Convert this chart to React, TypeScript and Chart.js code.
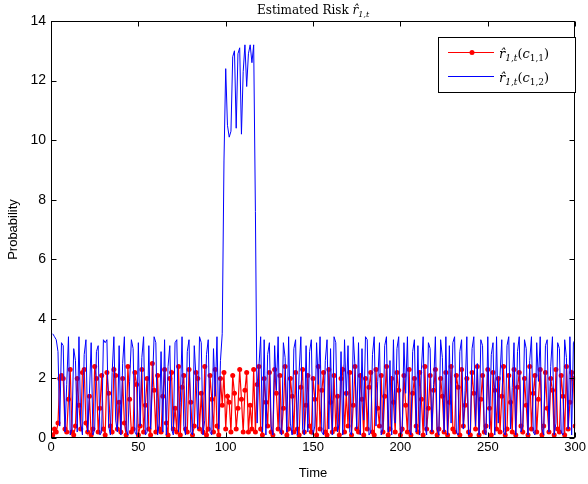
import React, { useEffect, useRef } from "react";
import { Chart, registerables } from "chart.js";

Chart.register(...registerables);

// ---- data ----
const TIME_START = 1;
const X_TICKS = [0, 50, 100, 150, 200, 250, 300];
const Y_TICKS = [0, 2, 4, 6, 8, 10, 12, 14];

const redLabel = "c₁,₁";
const blueLabel = "c₁,₂";

const redRisk = [
  0.1, 0.3, 0.2, 0.5, 2.0, 2.1, 2.0, 0.3, 0.2, 1.3,
  2.3, 0.2, 0.1, 0.4, 2.0, 1.1, 0.3, 2.2, 2.3, 0.5,
  0.2, 1.4, 0.1, 0.3, 2.4, 2.0, 0.2, 1.0, 2.1, 0.3,
  0.1, 2.2, 1.5, 0.4, 0.2, 2.3, 2.1, 0.3, 1.2, 0.2,
  2.0, 0.5, 0.1, 2.4, 1.3, 0.2, 0.3, 2.2, 1.8, 0.1,
  0.4, 2.3, 0.2, 1.1, 2.0, 0.3, 0.1, 2.5, 1.6, 0.2,
  2.1, 0.3, 0.2, 1.4, 2.3, 0.5, 0.1, 2.0, 2.2, 0.3,
  1.0, 0.2, 2.4, 0.1, 1.7, 2.1, 0.3, 0.2, 2.3, 1.2,
  0.1, 0.4, 2.2, 2.0, 0.3, 1.5, 0.2, 2.4, 0.1, 0.3,
  2.1, 1.3, 0.2, 2.3, 0.4, 0.1, 2.0, 1.1, 2.2, 0.3,
  1.4, 1.2, 0.2, 2.1, 1.5, 0.3, 1.0, 2.3, 1.3, 0.2,
  1.6, 2.2, 0.2, 1.1, 0.3, 2.3, 0.2, 1.8, 2.4, 0.3,
  0.1, 2.0, 1.2, 0.4, 2.2, 0.2, 0.1, 2.3, 1.5, 0.3,
  2.1, 0.2, 1.0, 2.4, 0.1, 0.3, 2.0, 1.4, 0.2, 2.2,
  0.3, 0.1, 1.7, 2.3, 0.2, 1.1, 2.1, 0.4, 0.2, 2.0,
  1.3, 0.1, 2.4, 0.3, 1.6, 2.2, 0.2, 0.1, 2.3, 1.2,
  0.2, 2.1, 0.3, 1.4, 0.1, 2.0, 2.3, 0.2, 1.5, 0.4,
  2.2, 0.1, 1.1, 2.4, 0.3, 0.2, 2.1, 1.3, 0.1, 2.0,
  0.3, 1.7, 2.2, 0.2, 0.1, 2.3, 1.0, 0.4, 2.1, 0.2,
  1.4, 2.4, 0.1, 0.3, 2.0, 1.2, 0.2, 2.2, 1.6, 0.1,
  0.3, 2.1, 1.1, 0.2, 2.3, 0.1, 1.5, 2.0, 0.4, 0.2,
  2.2, 1.3, 0.1, 2.4, 0.3, 1.0, 2.1, 0.2, 1.6, 2.3,
  0.1, 0.3, 2.0, 1.4, 0.2, 2.2, 0.1, 1.2, 2.4, 0.3,
  0.2, 2.1, 1.7, 0.1, 2.3, 0.4, 1.1, 2.0, 0.2, 0.1,
  2.2, 1.5, 0.3, 2.4, 0.1, 1.3, 2.1, 0.2, 0.4, 2.3,
  1.0, 0.1, 2.2, 1.6, 0.3, 2.0, 0.2, 1.4, 2.4, 0.1,
  0.3, 2.1, 1.2, 0.2, 2.3, 0.1, 1.7, 2.2, 0.4, 0.2,
  2.0, 1.1, 0.1, 2.4, 0.3, 1.5, 2.1, 0.2, 1.3, 2.3,
  0.1, 0.4, 2.2, 1.0, 0.2, 2.0, 1.6, 0.1, 2.3, 0.3,
  0.2, 2.1, 1.4, 0.1, 2.4, 0.3, 1.2, 2.2, 2.0, 0.4,
];

const blueRisk = [
  3.5, 3.4, 3.3, 2.9, 0.4, 3.2, 3.1, 0.2, 1.8, 3.4,
  0.1, 0.3, 3.0, 2.6, 0.2, 3.4, 0.5, 0.1, 2.8, 3.3,
  0.2, 1.5, 3.2, 0.1, 0.3, 2.9, 3.1, 0.1, 0.2, 3.3,
  3.2, 3.3, 0.4, 0.1, 2.2, 3.4, 0.6, 0.2, 3.1, 0.1,
  2.5, 3.4, 0.3, 0.1, 1.9, 3.3, 3.0, 0.2, 0.1, 3.2,
  0.4, 2.7, 3.4, 0.1, 0.2, 3.1, 0.3, 1.7, 3.4, 3.2,
  0.1, 0.5, 2.9, 0.2, 3.3, 0.1, 2.4, 3.1, 0.3, 0.1,
  3.2, 3.3, 0.2, 1.2, 3.4, 0.4, 0.1, 2.9, 3.3, 0.2,
  0.1, 3.1, 2.0, 0.3, 3.4, 3.2, 0.1, 0.6, 2.8, 3.3,
  0.2, 0.1, 3.0, 1.4, 3.4, 0.3, 2.6, 3.5,
  9.3, 12.4, 10.5, 10.1, 10.3, 12.8, 13.0, 10.4, 12.9, 13.1,
  10.2, 12.3, 13.2, 11.8, 12.9, 13.2, 12.6, 13.2,
  7.6,
  0.5, 2.4, 3.4,
  0.2, 3.3, 0.1, 2.8, 3.2, 0.4, 0.1, 3.1, 1.6, 3.4,
  0.3, 0.1, 3.2, 2.7, 0.2, 3.4, 0.5, 0.1, 3.0, 3.3,
  0.1, 2.2, 3.4, 0.3, 0.1, 3.1, 0.2, 2.9, 3.3, 0.1,
  0.4, 3.2, 1.8, 3.4, 0.2, 0.1, 2.6, 3.3, 0.3, 3.0,
  0.1, 3.4, 3.2, 0.2, 0.5, 2.9, 0.1, 3.3, 1.4, 3.1,
  0.2, 0.1, 3.4, 2.4, 0.3, 3.2, 0.1, 3.0, 0.6, 3.4,
  3.3, 0.1, 0.2, 2.8, 3.4, 0.4, 1.9, 3.2, 0.1, 0.3,
  3.1, 3.4, 0.2, 2.6, 0.1, 3.3, 0.5, 3.0, 3.4, 0.1,
  0.2, 3.2, 1.5, 3.4, 0.3, 0.1, 2.9, 3.3, 0.2, 3.1,
  0.1, 2.3, 3.4, 0.4, 0.1, 3.2, 3.0, 0.2, 1.8, 3.4,
  0.3, 0.1, 3.3, 2.7, 0.2, 3.4, 0.1, 3.1, 0.5, 3.2,
  3.4, 0.2, 0.1, 2.9, 3.3, 0.3, 1.6, 3.4, 0.1, 0.2,
  3.0, 3.4, 0.4, 2.5, 0.1, 3.3, 3.1, 0.2, 0.1, 3.4,
  0.3, 2.8, 3.2, 0.1, 3.4, 0.5, 2.1, 3.3, 0.2, 0.1,
  3.1, 3.4, 0.3, 1.7, 3.2, 0.1, 2.9, 3.4, 0.2, 0.4,
  3.3, 3.0, 0.1, 2.6, 3.4, 0.2, 0.1, 3.2, 1.9, 3.4,
  0.3, 0.1, 3.1, 3.3, 0.2, 2.4, 3.4, 0.1, 0.5, 3.2,
  3.0, 0.2, 0.1, 3.3, 2.7, 0.3, 3.4, 0.1, 3.2, 3.3,
];

const RED = "rgb(255,0,0)";
const BLUE = "rgb(0,0,255)";
const SERIF = "'DejaVu Serif', 'Liberation Serif', serif";
const SANS = "'Liberation Sans', Arial, sans-serif";

type Part = { t: string; sub?: boolean; italic?: boolean };

function partFont(p: Part, size: number, subSize: number) {
  return `${p.italic ? "italic " : ""}${p.sub ? subSize : size}px ${SERIF}`;
}

function richWidth(ctx: CanvasRenderingContext2D, parts: Part[], size: number, subSize: number) {
  let w = 0;
  for (const p of parts) {
    ctx.font = partFont(p, size, subSize);
    w += ctx.measureText(p.t).width;
  }
  return w;
}

function drawRich(ctx: CanvasRenderingContext2D, parts: Part[], x: number, y: number, size: number, subSize: number, subDrop: number) {
  ctx.textBaseline = "alphabetic";
  ctx.textAlign = "left";
  let cx = x;
  for (const p of parts) {
    ctx.font = partFont(p, size, subSize);
    ctx.fillText(p.t, cx, p.sub ? y + subDrop : y);
    cx += ctx.measureText(p.t).width;
  }
}

const titleParts: Part[] = [
  { t: "Estimated Risk " },
  { t: "r̂", italic: true },
  { t: "1,t", sub: true, italic: true },
];

function legendParts(sub: string): Part[] {
  return [
    { t: "r̂", italic: true },
    { t: "1,t", sub: true, italic: true },
    { t: "(" },
    { t: "c", italic: true },
    { t: sub, sub: true },
    { t: ")" },
  ];
}

const matlabPlugin = {
  id: "matlabFrame",
  afterDatasetsDraw(chart: any) {
    const { ctx, chartArea: a, scales } = chart;
    const L = Math.round(a.left) + 0.5;
    const R = Math.round(a.right) - 0.5;
    const T = Math.round(a.top) + 0.5;
    const B = Math.round(a.bottom) - 0.5;
    ctx.save();
    ctx.strokeStyle = "#000";
    ctx.lineWidth = 1;
    ctx.strokeRect(L, T, R - L, B - T);
    const tl = 5;
    ctx.beginPath();
    for (const t of scales.x.ticks) {
      const px = Math.round(scales.x.getPixelForValue(t.value)) + 0.5;
      ctx.moveTo(px, B);
      ctx.lineTo(px, B - tl);
      ctx.moveTo(px, T);
      ctx.lineTo(px, T + tl);
    }
    for (const t of scales.y.ticks) {
      const py = Math.round(scales.y.getPixelForValue(t.value)) + 0.5;
      ctx.moveTo(L, py);
      ctx.lineTo(L + tl, py);
      ctx.moveTo(R, py);
      ctx.lineTo(R - tl, py);
    }
    ctx.stroke();

    // title
    ctx.fillStyle = "#000";
    const tw = richWidth(ctx, titleParts, 12, 8);
    const cx = (a.left + a.right) / 2;
    drawRich(ctx, titleParts, cx - tw / 2, 14, 12, 8, 3);

    // legend
    const lx = 438.5, ly = 37.5, lw = 137, lh = 55;
    ctx.fillStyle = "#fff";
    ctx.fillRect(lx, ly, lw, lh);
    ctx.strokeStyle = "#000";
    ctx.strokeRect(lx, ly, lw, lh);
    const rows = [
      { color: RED, dot: true, y: 52.5, sub: "1,1" },
      { color: BLUE, dot: false, y: 76.5, sub: "1,2" },
    ];
    for (const r of rows) {
      ctx.strokeStyle = r.color;
      ctx.lineWidth = 1;
      ctx.beginPath();
      ctx.moveTo(448, r.y);
      ctx.lineTo(494, r.y);
      ctx.stroke();
      if (r.dot) {
        ctx.fillStyle = r.color;
        ctx.beginPath();
        ctx.arc(472, r.y, 2.5, 0, Math.PI * 2);
        ctx.fill();
      }
      ctx.fillStyle = "#000";
      drawRich(ctx, legendParts(r.sub), 499, r.y + 5, 13, 9, 3);
    }
    ctx.restore();
  },
};

export default function App() {
  const canvasRef = useRef<HTMLCanvasElement | null>(null);

  useEffect(() => {
    document.body.style.margin = "0";
    const canvas = canvasRef.current;
    if (!canvas) return;
    const chart = new Chart(canvas, {
      type: "line",
      data: {
        datasets: [
          {
            label: redLabel,
            data: redRisk.map((y, i) => ({ x: TIME_START + i, y })),
            borderColor: RED,
            backgroundColor: RED,
            borderWidth: 1.2,
            pointRadius: 2.5,
            pointBorderWidth: 0,
            pointBackgroundColor: RED,
            tension: 0,
            order: 1,
          },
          {
            label: blueLabel,
            data: blueRisk.map((y, i) => ({ x: TIME_START + i, y })),
            borderColor: BLUE,
            backgroundColor: BLUE,
            borderWidth: 1,
            pointRadius: 0,
            tension: 0,
            order: 0,
          },
        ],
      },
      options: {
        responsive: false,
        animation: false,
        devicePixelRatio: 1,
        layout: { padding: { top: 21, right: 12, left: 0, bottom: 0 } },
        plugins: {
          legend: { display: false },
          title: { display: false },
          tooltip: { enabled: false },
        },
        scales: {
          x: {
            type: "linear",
            min: 0,
            max: 300,
            grid: { display: false, drawTicks: false },
            border: { display: false },
            afterFit: (s: any) => { s.height = 46; },
            afterBuildTicks: (s: any) => { s.ticks = X_TICKS.map((v) => ({ value: v })); },
            ticks: { color: "#000", padding: 2, maxRotation: 0, autoSkip: false, font: { family: SANS, size: 13 } },
            title: { display: true, text: "Time", color: "#000", padding: { top: 0, bottom: 3 }, font: { family: SANS, size: 13 } },
          },
          y: {
            min: 0,
            max: 14,
            grid: { display: false, drawTicks: false },
            border: { display: false },
            afterFit: (s: any) => { s.width = 51; },
            afterBuildTicks: (s: any) => { s.ticks = Y_TICKS.map((v) => ({ value: v })); },
            ticks: { color: "#000", padding: 5, autoSkip: false, font: { family: SANS, size: 14 } },
            title: { display: true, text: "Probability", color: "#000", padding: { top: 6, bottom: 0 }, font: { family: SANS, size: 13 } },
          },
        },
      },
      plugins: [matlabPlugin],
    });
    return () => chart.destroy();
  }, []);

  return <canvas ref={canvasRef} width={588} height={484} style={{ display: "block" }} />;
}
